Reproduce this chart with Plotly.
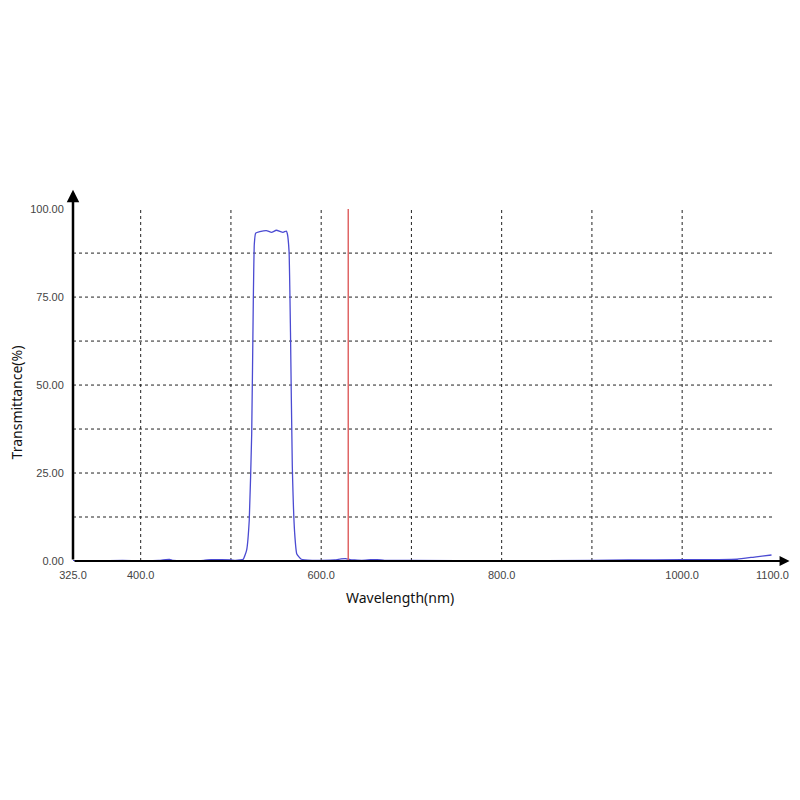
import plotly.graph_objects as go

# transmittance spectrum
wavelength = [325, 350, 380, 400, 420, 428, 432, 436, 450, 470, 478, 484, 490, 500, 505,
              510, 513.7, 517.4, 520.3, 523, 524.8, 525.9, 527.4, 532, 539.3, 545, 550.3,
              557.7, 561.4, 562.5, 564.4, 566, 568, 570.6, 573, 578, 590, 600, 615, 622,
              627, 632, 637, 645, 655, 662, 670, 700, 800, 900, 940, 1000, 1040, 1061,
              1082, 1099]
transmittance = [0.1, 0.1, 0.15, 0.1, 0.15, 0.4, 0.45, 0.15, 0.1, 0.2, 0.4, 0.35, 0.4, 0.3, 0.2,
                 0.3, 0.5, 3.1, 11.6, 36, 74, 90, 93.2, 93.6, 93.9, 93.4, 94.0,
                 93.4, 93.75, 93.0, 88, 65, 27, 8, 2, 0.5, 0.2, 0.2, 0.3, 0.6,
                 0.7, 0.4, 0.3, 0.2, 0.35, 0.4, 0.2, 0.15, 0.1, 0.15, 0.3, 0.35, 0.4, 0.5,
                 1.2, 1.7]

marker_nm = 630
x_grid = [400, 500, 600, 700, 800, 900, 1000]
y_grid = [12.5, 25, 37.5, 50, 62.5, 75, 87.5]
x_ticks = [325, 400, 600, 800, 1000, 1100]
x_tick_text = ["325.0", "400.0", "600.0", "800.0", "1000.0", "1100.0"]
y_ticks = [0, 25, 50, 75, 100]
y_tick_text = ["0.00", "25.00", "50.00", "75.00", "100.00"]

fig = go.Figure()

# dashed grid drawn as shapes so it stops at 100 % / 1100 nm
for xv in x_grid:
    fig.add_shape(type="line", xref="x", yref="y", x0=xv, x1=xv, y0=0, y1=100,
                  line=dict(color="#222", width=1, dash="3px,3px"), layer="below")
for yv in y_grid:
    fig.add_shape(type="line", xref="x", yref="y", x0=325, x1=1100, y0=yv, y1=yv,
                  line=dict(color="#222", width=1, dash="3px,3px"), layer="below")

# red marker line
fig.add_shape(type="line", xref="x", yref="y", x0=marker_nm, x1=marker_nm, y0=0, y1=100,
              line=dict(color="#e06666", width=1.5))

fig.add_trace(go.Scatter(x=wavelength, y=transmittance, mode="lines", line_shape="spline",
                         line=dict(color="#4b4bd2", width=1.3, smoothing=0.4),
                         hoverinfo="skip", showlegend=False))

# axis arrows
fig.add_annotation(x=325, y=105.5, ax=325, ay=0, xref="x", yref="y", axref="x", ayref="y",
                   text="", showarrow=True, arrowhead=2, arrowsize=1, arrowwidth=2.5,
                   arrowcolor="black")
fig.add_annotation(x=1119, y=0, ax=325, ay=0, xref="x", yref="y", axref="x", ayref="y",
                   text="", showarrow=True, arrowhead=2, arrowsize=1, arrowwidth=2,
                   arrowcolor="black")

# axis titles
fig.add_annotation(x=0.4554, y=-0.099, xref="paper", yref="paper", text="Wavelength(nm)",
                   showarrow=False, xanchor="center", yanchor="middle",
                   font=dict(family="Noto Sans", size=14, color="#111"))
fig.add_annotation(x=-0.079, y=0.426, xref="paper", yref="paper", text="Transmittance(%)",
                   showarrow=False, textangle=-90, xanchor="center", yanchor="middle",
                   font=dict(family="Noto Sans", size=14, color="#111"))

tick_font = dict(family="Liberation Sans", size=11, color="#444")
fig.update_xaxes(range=[325, 1120.6], showgrid=False, zeroline=False, showline=False,
                 tickvals=x_ticks, ticktext=x_tick_text, ticks="outside", ticklen=4,
                 tickcolor="rgba(0,0,0,0)", tickfont=tick_font)
fig.update_yaxes(range=[0, 106], showgrid=False, zeroline=False, showline=False,
                 tickvals=y_ticks, ticktext=y_tick_text, ticks="outside", ticklen=6,
                 tickcolor="rgba(0,0,0,0)", tickfont=tick_font)

# page body adds an 8px offset, so the figure is 792 wide/high
fig.update_layout(width=792, height=792, plot_bgcolor="white", paper_bgcolor="white",
                  margin=dict(l=65, r=9, t=180, b=239))

fig.write_html("out.html")
